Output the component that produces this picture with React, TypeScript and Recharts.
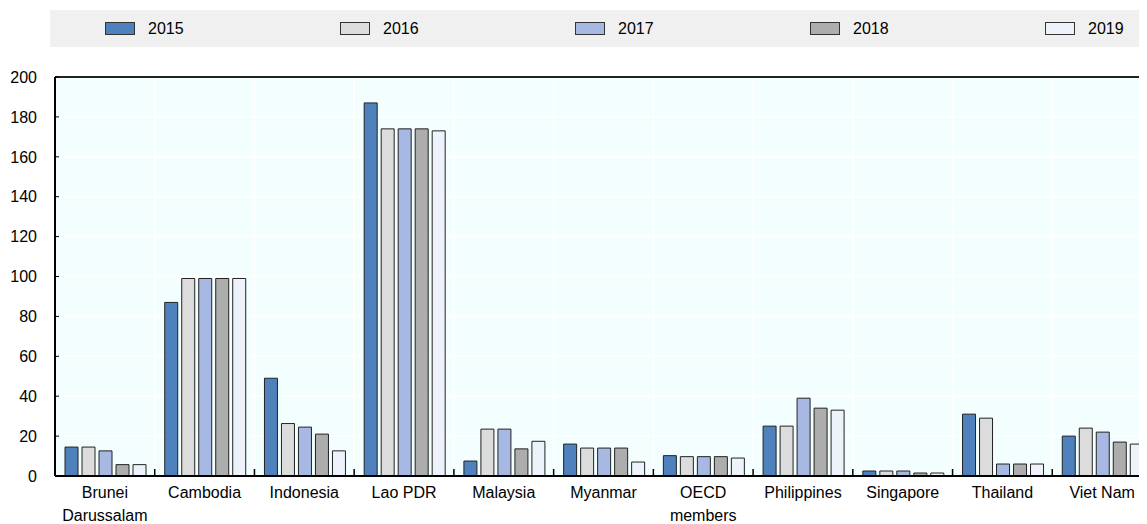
import { BarChart, Bar, XAxis, YAxis, CartesianGrid, ReferenceLine } from "recharts";

const CATEGORIES = [
  "Brunei\nDarussalam",
  "Cambodia",
  "Indonesia",
  "Lao PDR",
  "Malaysia",
  "Myanmar",
  "OECD\nmembers",
  "Philippines",
  "Singapore",
  "Thailand",
  "Viet Nam",
];

const YEARS = ["2015", "2016", "2017", "2018", "2019"];
const COLORS = ["#4f81bd", "#dcdcdc", "#a7b8e3", "#adadad", "#eef2fa"];

const V2015 = [14.5, 87, 49, 187, 7.5, 16, 10.2, 25, 2.5, 31, 20];
const V2016 = [14.5, 99, 26.3, 174, 23.5, 14, 9.7, 25, 2.5, 29, 24];
const V2017 = [12.6, 99, 24.5, 174, 23.5, 14, 9.7, 39, 2.5, 6, 22];
const V2018 = [5.7, 99, 21, 174, 13.6, 14, 9.7, 34, 1.5, 6, 17];
const V2019 = [5.7, 99, 12.6, 173, 17.4, 7, 9, 33, 1.5, 6, 16];

const Y_TICKS = [0, 20, 40, 60, 80, 100, 120, 140, 160, 180, 200];

const SERIES = [V2015, V2016, V2017, V2018, V2019];

const data = CATEGORIES.map((name, i) => {
  const row: Record<string, string | number> = { name };
  YEARS.forEach((y, s) => {
    row[y] = SERIES[s][i];
  });
  return row;
});

const FONT = "'Liberation Sans', Arial, sans-serif";

function XTick(props: any) {
  const { x, y, payload } = props;
  const lines = String(payload.value).split("\n");
  const bx = x - (payload.offset ?? 0);
  return (
    <g>
      <line x1={bx} y1={y} x2={bx} y2={y - 7} stroke="#000" strokeWidth={1.5} />
      {lines.map((l, i) => (
        <text key={i} x={x} y={y + 22 + i * 23} textAnchor="middle" fontSize={16} fontFamily={FONT} fill="#000">
          {l}
        </text>
      ))}
    </g>
  );
}

function YTick(props: any) {
  const { x, y, payload } = props;
  return (
    <g>
      <line x1={x} y1={y} x2={x + 4} y2={y} stroke="#000" strokeWidth={1} />
      <text x={x - 18} y={y} dy="0.36em" textAnchor="end" fontSize={16} fontFamily={FONT} fill="#000">
        {payload.value}
      </text>
    </g>
  );
}

export default function App() {
  return (
    <div style={{ position: "relative", margin: "-8px 0 0 -8px", width: 1147, height: 524, overflow: "hidden", background: "#fff" }}>
      <div style={{ position: "absolute", left: 50, top: 10, width: 1097, height: 37, background: "#f0f0f0" }}>
        {YEARS.map((y, i) => (
          <div key={y} style={{ position: "absolute", left: 55 + i * 235, top: 0, height: 37, display: "flex", alignItems: "center" }}>
            <div style={{ width: 28, height: 11, background: COLORS[i], border: "1px solid #333" }} />
            <span style={{ marginLeft: 13, fontFamily: FONT, fontSize: 16, color: "#000" }}>{y}</span>
          </div>
        ))}
      </div>
      <div style={{ position: "absolute", left: 0, top: 0 }}>
        <BarChart
          width={1152}
          height={524}
          data={data}
          margin={{ top: 77, right: 0, left: 0, bottom: 0 }}
          barCategoryGap={10}
          barGap={4}
        >
          <CartesianGrid
            fill="#f3fefe"
            fillOpacity={1}
            stroke="#ffffff"
            strokeWidth={1.5}
            verticalCoordinatesGenerator={({ offset }: any) =>
              CATEGORIES.map((_, i) => offset.left + (i * offset.width) / CATEGORIES.length)
            }
          />
          <XAxis
            dataKey="name"
            interval={0}
            height={48}
            tickSize={0}
            tickMargin={0}
            tick={<XTick />}
            axisLine={{ stroke: "#000", strokeWidth: 2 }}
          />
          <YAxis
            width={55}
            domain={[0, 200]}
            ticks={Y_TICKS}
            interval={0}
            tickSize={0}
            tickMargin={0}
            tick={<YTick />}
            axisLine={{ stroke: "#000", strokeWidth: 2 }}
          />
          <ReferenceLine y={200} stroke="#222" strokeWidth={2} />
          {YEARS.map((y, i) => (
            <Bar key={y} dataKey={y} fill={COLORS[i]} stroke="#222" strokeWidth={1} isAnimationActive={false} />
          ))}
        </BarChart>
      </div>
    </div>
  );
}
